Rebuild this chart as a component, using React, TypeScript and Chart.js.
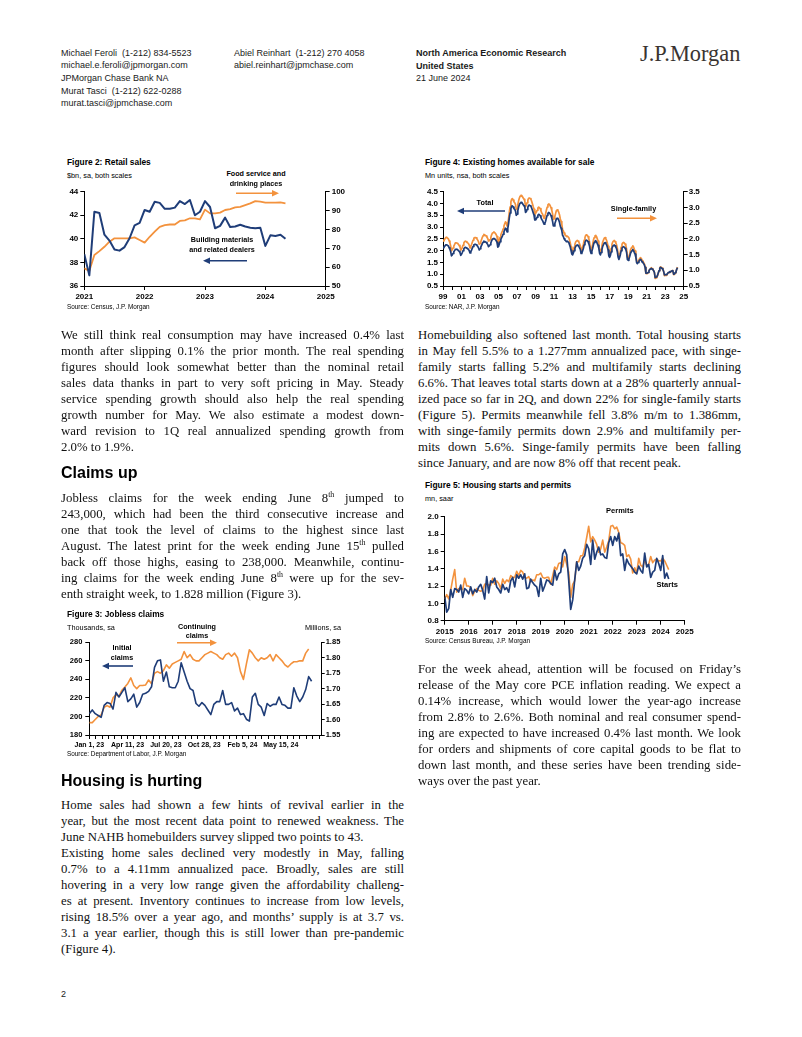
import React, { useEffect, useRef } from 'react';
import { Chart, registerables } from 'chart.js';

Chart.register(...registerables);

const BLUE = '#1f3d78';
const ORANGE = '#f3923d';
const SANS = "'Liberation Sans', Arial, Helvetica, sans-serif";
const SERIF = "'Liberation Serif', 'Times New Roman', Times, serif";

// ---------- Figure 2: Retail sales (monthly, Jan 2021 - May 2024) ----------
const fig2TickLabels = ['2021', '2022', '2023', '2024', '2025'];
const buildingMaterials = [
  38.7, 36.9, 42.3, 42.2, 40.35, 39.85, 39.1, 39.0, 39.3, 40.05, 41.15, 41.35,
  42.45, 42.3, 43.15, 43.05, 42.55, 42.55, 42.65, 43.2, 42.95, 43.3, 42.0, 42.3,
  43.2, 42.7, 40.9, 41.1, 41.8, 41.0, 41.05, 41.2, 41.05, 40.95, 40.9, 40.95,
  39.4, 40.3, 40.25, 40.35, 40.0,
];
const foodServices = [
  59.4, 58, 66.4, 68.5, 70.8, 73.5, 75.3, 75.3, 75.3, 75.3, 75.8, 74.4,
  73, 76.1, 78.8, 81.4, 82.3, 82.6, 82.6, 84.5, 84.8, 85.9, 85.9, 85.3,
  90.5, 88.5, 88.5, 88.9, 90.3, 90.8, 91.7, 92, 92.9, 93.8, 95, 94.7,
  94.2, 94.2, 94.2, 94.3, 93.8,
];

// ---------- Figure 3: Jobless claims (weekly, Jan 2023 - Jun 2024) ----------
const fig3TickLabels = ['Jan 1, 23', 'Apr 11, 23', 'Jul 20, 23', 'Oct 28, 23', 'Feb 5, 24', 'May 15, 24'];
const initialClaims = [
  203, 207, 203, 201, 199, 212, 215, 214, 208, 226,
  221, 226, 231, 216, 219, 224, 210, 215, 224, 225,
  227, 232, 253, 260, 261, 238, 248, 232, 231, 231,
  238, 258, 248, 238, 230, 228, 214, 211, 215, 212,
  207, 202, 213, 216, 216, 228, 213, 213, 215, 206,
  209, 202, 203, 197, 195, 221, 225, 213, 210, 201,
  214, 211, 213, 213, 221, 213, 212, 209, 209, 231,
  222, 216, 221, 229, 243, 238,
];
const continuingClaims = [
  1.59, 1.59, 1.60, 1.61, 1.615, 1.64, 1.645, 1.64, 1.67, 1.68,
  1.675, 1.695, 1.705, 1.717, 1.735, 1.71, 1.70, 1.71, 1.71, 1.712,
  1.728, 1.716, 1.75, 1.755, 1.75, 1.758, 1.777, 1.766, 1.78, 1.785,
  1.79, 1.795, 1.82, 1.80, 1.81, 1.795, 1.79, 1.79, 1.80, 1.81,
  1.815, 1.82, 1.815, 1.81, 1.80, 1.795, 1.81, 1.815, 1.805, 1.815,
  1.80, 1.755, 1.73, 1.78, 1.826, 1.815, 1.80, 1.79, 1.80, 1.795,
  1.80, 1.81, 1.79, 1.81, 1.80, 1.79, 1.777, 1.77, 1.78, 1.787,
  1.787, 1.79, 1.79, 1.815, 1.828,
];

// ---------- Figure 4: Existing homes for sale (monthly, Jan 1999 - May 2024) ----------
const fig4TickLabels = ['99', '01', '03', '05', '07', '09', '11', '13', '15', '17', '19', '21', '23', '25'];
const totalInventory = [
  2.15, 2.12, 2.18, 2.22, 2.25, 2.24, 2.22, 2.20, 2.12, 2.05, 1.95, 1.78,
  1.82, 1.88, 1.95, 2.00, 2.05, 2.05, 2.06, 2.04, 2.00, 1.97, 1.92, 1.80,
  1.85, 1.92, 2.00, 2.08, 2.12, 2.14, 2.12, 2.10, 2.08, 2.05, 2.00, 1.90,
  1.95, 2.02, 2.10, 2.18, 2.24, 2.27, 2.27, 2.25, 2.22, 2.18, 2.12, 2.03,
  2.08, 2.15, 2.22, 2.30, 2.36, 2.40, 2.38, 2.37, 2.35, 2.30, 2.26, 2.17,
  2.20, 2.25, 2.32, 2.42, 2.48, 2.50, 2.52, 2.50, 2.47, 2.42, 2.35, 2.15,
  2.18, 2.28, 2.38, 2.48, 2.55, 2.62, 2.70, 2.80, 2.88, 2.95, 2.92, 2.80,
  2.95, 3.15, 3.40, 3.60, 3.78, 3.88, 3.90, 3.85, 3.78, 3.75, 3.68, 3.50,
  3.55, 3.70, 3.85, 3.95, 4.02, 4.05, 4.05, 4.00, 3.95, 3.90, 3.85, 3.62,
  3.65, 3.75, 3.85, 3.92, 3.93, 3.90, 3.88, 3.80, 3.70, 3.60, 3.50, 3.30,
  3.30, 3.35, 3.42, 3.50, 3.54, 3.52, 3.48, 3.40, 3.32, 3.28, 3.20, 3.12,
  3.15, 3.25, 3.38, 3.50, 3.58, 3.62, 3.60, 3.55, 3.48, 3.38, 3.25, 3.05,
  3.05, 3.15, 3.25, 3.35, 3.37, 3.35, 3.30, 3.20, 3.05, 2.95, 2.85, 2.65,
  2.60, 2.50, 2.45, 2.42, 2.38, 2.40, 2.40, 2.35, 2.25, 2.15, 2.00, 1.85,
  1.82, 1.90, 2.00, 2.10, 2.18, 2.22, 2.24, 2.22, 2.18, 2.12, 2.05, 1.88,
  1.90, 2.00, 2.10, 2.25, 2.35, 2.42, 2.45, 2.42, 2.38, 2.30, 2.18, 1.98,
  1.88, 1.98, 2.10, 2.25, 2.35, 2.40, 2.42, 2.38, 2.30, 2.22, 2.10, 1.88,
  1.82, 1.92, 2.05, 2.18, 2.25, 2.32, 2.34, 2.30, 2.25, 2.15, 2.02, 1.77,
  1.72, 1.80, 1.95, 2.10, 2.18, 2.22, 2.24, 2.20, 2.15, 2.08, 1.95, 1.72,
  1.63, 1.72, 1.85, 2.00, 2.10, 2.15, 2.17, 2.15, 2.10, 2.05, 1.92, 1.63,
  1.59, 1.65, 1.75, 1.88, 1.95, 2.00, 2.05, 2.00, 1.92, 1.85, 1.72, 1.49,
  1.45, 1.50, 1.55, 1.60, 1.63, 1.60, 1.52, 1.50, 1.45, 1.40, 1.28, 1.05,
  1.04, 1.05, 1.08, 1.15, 1.20, 1.22, 1.25, 1.22, 1.20, 1.15, 1.08, 0.86,
  0.86, 0.88, 0.95, 1.05, 1.15, 1.25, 1.29, 1.27, 1.24, 1.20, 1.12, 0.97,
  0.98, 0.98, 0.98, 1.03, 1.07, 1.08, 1.11, 1.10, 1.13, 1.15, 1.13, 1.00,
  1.01, 1.07, 1.11, 1.21, 1.28,
];
const singleFamilyInventory = [
  1.96, 1.93, 1.98, 2.02, 2.05, 2.04, 2.02, 2.00, 1.93, 1.87, 1.77, 1.62,
  1.66, 1.71, 1.77, 1.82, 1.87, 1.87, 1.87, 1.86, 1.82, 1.79, 1.75, 1.64,
  1.67, 1.73, 1.80, 1.87, 1.91, 1.93, 1.91, 1.89, 1.87, 1.85, 1.80, 1.71,
  1.76, 1.82, 1.89, 1.96, 2.02, 2.04, 2.04, 2.03, 2.00, 1.96, 1.91, 1.83,
  1.85, 1.91, 1.98, 2.05, 2.10, 2.14, 2.12, 2.11, 2.09, 2.05, 2.01, 1.93,
  1.94, 1.98, 2.04, 2.13, 2.18, 2.20, 2.22, 2.20, 2.17, 2.13, 2.07, 1.89,
  1.87, 1.96, 2.05, 2.13, 2.19, 2.25, 2.32, 2.41, 2.48, 2.54, 2.51, 2.41,
  2.48, 2.65, 2.86, 3.02, 3.18, 3.26, 3.28, 3.23, 3.18, 3.15, 3.09, 2.94,
  2.96, 3.09, 3.21, 3.30, 3.36, 3.38, 3.38, 3.34, 3.30, 3.26, 3.21, 3.02,
  3.07, 3.15, 3.23, 3.29, 3.30, 3.28, 3.26, 3.19, 3.11, 3.02, 2.94, 2.77,
  2.81, 2.85, 2.91, 2.98, 3.01, 2.99, 2.96, 2.89, 2.82, 2.79, 2.72, 2.65,
  2.71, 2.80, 2.91, 3.01, 3.08, 3.11, 3.10, 3.05, 2.99, 2.91, 2.80, 2.62,
  2.64, 2.72, 2.81, 2.90, 2.92, 2.90, 2.85, 2.77, 2.64, 2.55, 2.47, 2.29,
  2.26, 2.18, 2.13, 2.11, 2.07, 2.09, 2.09, 2.04, 1.96, 1.87, 1.74, 1.61,
  1.58, 1.65, 1.74, 1.83, 1.90, 1.93, 1.95, 1.93, 1.90, 1.84, 1.78, 1.64,
  1.65, 1.74, 1.83, 1.96, 2.04, 2.11, 2.13, 2.11, 2.07, 2.00, 1.90, 1.72,
  1.64, 1.72, 1.83, 1.96, 2.04, 2.09, 2.11, 2.07, 2.00, 1.93, 1.83, 1.64,
  1.58, 1.67, 1.78, 1.90, 1.96, 2.02, 2.04, 2.00, 1.96, 1.87, 1.76, 1.54,
  1.50, 1.57, 1.70, 1.83, 1.90, 1.93, 1.95, 1.91, 1.87, 1.81, 1.70, 1.50,
  1.42, 1.50, 1.61, 1.74, 1.83, 1.87, 1.89, 1.87, 1.83, 1.78, 1.67, 1.42,
  1.38, 1.44, 1.52, 1.64, 1.70, 1.74, 1.78, 1.74, 1.67, 1.61, 1.50, 1.30,
  1.25, 1.29, 1.33, 1.38, 1.40, 1.38, 1.31, 1.29, 1.25, 1.20, 1.10, 0.90,
  0.89, 0.90, 0.93, 0.99, 1.03, 1.05, 1.08, 1.05, 1.03, 0.99, 0.93, 0.74,
  0.74, 0.76, 0.82, 0.90, 0.99, 1.08, 1.11, 1.09, 1.07, 1.03, 0.96, 0.83,
  0.84, 0.84, 0.84, 0.89, 0.92, 0.93, 0.95, 0.95, 0.97, 0.99, 0.97, 0.86,
  0.87, 0.92, 0.95, 1.04, 1.10,
];

// ---------- Figure 5: Housing starts and permits (monthly, Jan 2015 - May 2024) ----------
const fig5TickLabels = ['2015', '2016', '2017', '2018', '2019', '2020', '2021', '2022', '2023', '2024', '2025'];
const housingStarts = [
  1.08, 0.90, 0.94, 1.16, 1.07, 1.17, 1.16, 1.13, 1.21, 1.07, 1.17, 1.15,
  1.11, 1.19, 1.11, 1.16, 1.13, 1.19, 1.22, 1.15, 1.05, 1.31, 1.12, 1.26,
  1.24, 1.29, 1.19, 1.16, 1.12, 1.22, 1.16, 1.18, 1.13, 1.26, 1.30, 1.19,
  1.33, 1.29, 1.33, 1.28, 1.34, 1.17, 1.18, 1.28, 1.24, 1.21, 1.19, 1.08,
  1.29, 1.14, 1.20, 1.27, 1.26, 1.23, 1.21, 1.38, 1.27, 1.34, 1.36, 1.57,
  1.62, 1.56, 1.27, 0.93, 1.04, 1.27, 1.48, 1.38, 1.43, 1.52, 1.55, 1.68,
  1.63, 1.45, 1.73, 1.51, 1.59, 1.65, 1.56, 1.57, 1.53, 1.52, 1.70, 1.77,
  1.67, 1.77, 1.72, 1.81, 1.55, 1.57, 1.38, 1.51, 1.46, 1.43, 1.40, 1.36,
  1.34, 1.43, 1.38, 1.35, 1.58, 1.42, 1.45, 1.30, 1.36, 1.38, 1.52, 1.46,
  1.38, 1.55, 1.29, 1.35, 1.28,
];
const buildingPermits = [
  1.05, 1.10, 1.05, 1.15, 1.28, 1.39, 1.13, 1.17, 1.16, 1.16, 1.29, 1.20,
  1.20, 1.18, 1.09, 1.14, 1.17, 1.15, 1.14, 1.15, 1.22, 1.23, 1.21, 1.21,
  1.29, 1.22, 1.26, 1.23, 1.17, 1.28, 1.23, 1.27, 1.25, 1.32, 1.30, 1.30,
  1.37, 1.32, 1.38, 1.36, 1.30, 1.29, 1.31, 1.25, 1.27, 1.26, 1.33, 1.33,
  1.35, 1.30, 1.29, 1.30, 1.30, 1.22, 1.32, 1.42, 1.39, 1.46, 1.47, 1.42,
  1.54, 1.45, 1.36, 1.07, 1.22, 1.26, 1.48, 1.48, 1.55, 1.55, 1.64, 1.76,
  1.89, 1.71, 1.77, 1.73, 1.68, 1.59, 1.63, 1.73, 1.59, 1.65, 1.72, 1.89,
  1.90, 1.86, 1.88, 1.82, 1.70, 1.69, 1.67, 1.54, 1.56, 1.51, 1.35, 1.41,
  1.35, 1.52, 1.44, 1.42, 1.50, 1.44, 1.45, 1.54, 1.47, 1.50, 1.51, 1.49,
  1.49, 1.52, 1.49, 1.44, 1.39,
];

// ---------- chart helpers ----------
function series(values: number[], color: string, width: number, axis: string) {
  return {
    data: values.map((v, i) => ({ x: i, y: v })),
    borderColor: color,
    backgroundColor: color,
    borderWidth: width,
    pointRadius: 0,
    fill: false,
    tension: 0,
    borderJoinStyle: 'round',
    yAxisID: axis,
  };
}

function yAxis(position: 'left' | 'right', min: number, max: number, count: number, decimals: number, width: number, tickLength: number, padding: number, fontSize = 8) {
  return {
    type: 'linear',
    position,
    min,
    max,
    ticks: {
      count,
      autoSkip: false,
      padding,
      color: '#000',
      font: { family: SANS, size: fontSize, weight: 'bold' },
      callback: (v: any) => Number(v).toFixed(decimals),
    },
    grid: { display: true, drawOnChartArea: false, drawTicks: true, tickLength, color: '#000', lineWidth: 1 },
    border: { display: true, color: '#000', width: 1 },
    afterFit: (s: any) => { s.width = width; },
  };
}

function xAxis(min: number, max: number, count: number, labelFor: (i: number) => string, height: number, fontSize = 8, extra: any = {}) {
  return {
    type: 'linear',
    position: 'bottom',
    min,
    max,
    ticks: {
      count,
      autoSkip: false,
      maxRotation: 0,
      minRotation: 0,
      padding: 2,
      color: '#000',
      font: { family: SANS, size: fontSize, weight: 'bold' },
      callback: (_v: any, i: number) => labelFor(i),
    },
    grid: { display: true, drawOnChartArea: false, drawTicks: true, tickLength: 4, color: '#000', lineWidth: 1 },
    border: { display: true, color: '#000', width: 1 },
    afterFit: (s: any) => { s.height = height; },
    ...extra,
  };
}

function lineConfig(datasets: any[], scales: any, padding: any) {
  return {
    type: 'line',
    data: { datasets },
    options: {
      responsive: false,
      animation: false,
      devicePixelRatio: 1,
      events: [],
      layout: { padding },
      plugins: { legend: { display: false }, tooltip: { enabled: false } },
      scales,
    },
  };
}

function ChartBox({ left, top, width, height, config }: any) {
  const ref = useRef<HTMLCanvasElement>(null);
  useEffect(() => {
    const chart = new Chart(ref.current as HTMLCanvasElement, config());
    return () => chart.destroy();
  }, []);
  return (
    <canvas
      ref={ref}
      width={width}
      height={height}
      style={{ position: 'absolute', left, top, width, height, display: 'block' }}
    />
  );
}

// ---------- chart configs ----------
const fig2Config = () =>
  lineConfig(
    [series(buildingMaterials, BLUE, 2, 'y'), series(foodServices, ORANGE, 1.8, 'y2')],
    {
      x: xAxis(0, 48, 5, (i) => fig2TickLabels[i] ?? '', 18),
      y: yAxis('left', 36, 44, 5, 0, 29.3, 4, 2),
      y2: yAxis('right', 50, 100, 6, 0, 29.3, 4, 2),
    },
    { top: 7.7, left: 0, right: 0, bottom: 0 }
  );

const fig3MinorStep = 12.92 / 6;
const fig3Config = () =>
  lineConfig(
    [series(initialClaims, BLUE, 1.6, 'y'), series(continuingClaims, ORANGE, 1.6, 'y2')],
    {
      x: xAxis(0, 78.4, 37, (i) => (i % 6 === 0 ? fig3TickLabels[i / 6] ?? '' : ''), 17, 7, {
        afterBuildTicks: (s: any) => {
          s.ticks = Array.from({ length: 37 }, (_, k) => ({ value: k * fig3MinorStep }));
        },
      }),
      y: yAxis('left', 180, 280, 6, 0, 29.3, 4, 3, 7.5),
      y2: yAxis('right', 1.55, 1.85, 7, 2, 30.3, 3, 1, 7.5),
    },
    { top: 8.3, left: 0, right: 0, bottom: 0 }
  );

const fig4Config = () =>
  lineConfig(
    [series(totalInventory, BLUE, 1.7, 'y'), series(singleFamilyInventory, ORANGE, 1.7, 'y2')],
    {
      x: xAxis(0, 312, 27, (i) => (i % 2 === 0 ? fig4TickLabels[i / 2] ?? '' : ''), 18),
      y: yAxis('left', 0.5, 4.5, 9, 1, 28, 3, 2),
      y2: yAxis('right', 0.5, 3.5, 7, 1, 21.3, 4, 1),
    },
    { top: 7.7, left: 0, right: 0, bottom: 0 }
  );

const fig5Config = () =>
  lineConfig(
    [series(housingStarts, BLUE, 1.7, 'y'), series(buildingPermits, ORANGE, 1.6, 'y')],
    {
      x: xAxis(0, 120, 11, (i) => fig5TickLabels[i] ?? '', 17.3),
      y: yAxis('left', 0.8, 2.0, 7, 1, 29.7, 4, 2),
    },
    { top: 8.7, left: 0, right: 15.3, bottom: 0 }
  );

// ---------- text helpers ----------
function Txt({ x, y, children, size = 9, bold = false, align = 'left', family = SANS, color = '#000' }: any) {
  const tx = align === 'center' ? '-50%' : align === 'right' ? '-100%' : '0';
  return (
    <div
      style={{
        position: 'absolute',
        left: x,
        top: y - size * 0.6,
        fontFamily: family,
        fontSize: size,
        fontWeight: bold ? 'bold' : 'normal',
        lineHeight: `${size * 1.2}px`,
        whiteSpace: 'pre',
        color,
        transform: `translateX(${tx})`,
      }}
    >
      {children}
    </div>
  );
}

const Sup = () => <sup style={{ fontSize: '0.62em', lineHeight: 0, verticalAlign: 'super' }}>th</sup>;

function Para({ x, y, width, lines, plain = [] }: any) {
  return (
    <div
      style={{
        position: 'absolute',
        left: x,
        top: y - 8.5,
        width,
        fontFamily: SERIF,
        fontSize: 12.8,
        lineHeight: '16px',
        color: '#111',
      }}
    >
      {lines.map((l: any, i: number) => {
        const left = i === lines.length - 1 || plain.includes(i);
        return (
          <div key={i} style={{ height: 16, textAlign: left ? 'left' : 'justify', textAlignLast: left ? 'left' : 'justify' } as any}>
            {l}
          </div>
        );
      })}
    </div>
  );
}

function Arrow({ x1, y1, x2, y2, color }: any) {
  const dir = Math.sign(x2 - x1);
  const hl = 7;
  const hw = 3.2;
  return (
    <g>
      <line x1={x1} y1={y1} x2={x2 - dir * hl * 0.8} y2={y2} stroke={color} strokeWidth={1.6} />
      <polygon points={`${x2},${y2} ${x2 - dir * hl},${y2 - hw} ${x2 - dir * hl},${y2 + hw}`} fill={color} />
    </g>
  );
}

const H = '#1a1a1a';

export default function App() {
  return (
    <div style={{ position: 'absolute', left: 0, top: 0, width: 802, height: 1037, background: '#fff', overflow: 'hidden' }}>
      {/* Header */}
      <Txt x={61} y={53} color={H}>Michael Feroli  (1-212) 834-5523</Txt>
      <Txt x={61} y={65} color={H}>michael.e.feroli@jpmorgan.com</Txt>
      <Txt x={61} y={78} color={H}>JPMorgan Chase Bank NA</Txt>
      <Txt x={61} y={91} color={H}>Murat Tasci  (1-212) 622-0288</Txt>
      <Txt x={61} y={103} color={H}>murat.tasci@jpmchase.com</Txt>
      <Txt x={234} y={53} color={H}>Abiel Reinhart  (1-212) 270 4058</Txt>
      <Txt x={234} y={65} color={H}>abiel.reinhart@jpmchase.com</Txt>
      <Txt x={416} y={53} bold color={H}>North America Economic Research</Txt>
      <Txt x={416} y={66} bold color={H}>United States</Txt>
      <Txt x={416} y={78} color={H}>21 June 2024</Txt>
      <div style={{ position: 'absolute', left: 640, top: 41, fontFamily: SERIF, fontSize: 22.4, lineHeight: '26px', color: '#3a3431', whiteSpace: 'pre' }}>J.P.Morgan</div>

      {/* Figure 2 */}
      <Txt x={67} y={162} size={8.4} bold>Figure 2: Retail sales</Txt>
      <Txt x={67} y={176} size={7.3}>$bn, sa, both scales</Txt>
      <ChartBox left={55} top={184} width={300} height={120} config={fig2Config} />
      <Txt x={67} y={307} size={6.4}>Source: Census, J.P. Morgan</Txt>
      <Txt x={256} y={174} size={7.2} bold align="center">Food service and</Txt>
      <Txt x={256} y={184.5} size={7.2} bold align="center">drinking places</Txt>
      <Txt x={222} y={240} size={7.2} bold align="center">Building materials</Txt>
      <Txt x={222} y={250} size={7.2} bold align="center">and related dealers</Txt>

      {/* Figure 4 */}
      <Txt x={425} y={162} size={8.4} bold>Figure 4: Existing homes available for sale</Txt>
      <Txt x={425} y={176} size={7.3}>Mn units, nsa, both scales</Txt>
      <ChartBox left={415} top={184} width={290} height={120} config={fig4Config} />
      <Txt x={425} y={307} size={6.4}>Source: NAR, J.P. Morgan</Txt>
      <Txt x={485} y={203.3} size={7.3} bold align="center">Total</Txt>
      <Txt x={633.5} y={209.3} size={7.3} bold align="center">Single-family</Txt>

      {/* Left column text */}
      <Para
        x={61}
        y={335}
        width={343}
        lines={[
          'We still think real consumption may have increased 0.4% last',
          'month after slipping 0.1% the prior month. The real spending',
          'figures should look somewhat better than the nominal retail',
          'sales data thanks in part to very soft pricing in May. Steady',
          'service spending growth should also help the real spending',
          'growth number for May. We also estimate a modest down-',
          'ward revision to 1Q real annualized spending growth from',
          '2.0% to 1.9%.',
        ]}
      />
      <Txt x={61} y={473} size={16} bold>Claims up</Txt>
      <Para
        x={61}
        y={498}
        width={343}
        lines={[
          <>Jobless claims for the week ending June 8<Sup /> jumped to</>,
          '243,000, which had been the third consecutive increase and',
          'one that took the level of claims to the highest since last',
          <>August. The latest print for the week ending June 15<Sup /> pulled</>,
          'back off those highs, easing to 238,000. Meanwhile, continu-',
          <>ing claims for the week ending June 8<Sup /> were up for the sev-</>,
          'enth straight week, to 1.828 million (Figure 3).',
        ]}
      />

      {/* Figure 3 */}
      <Txt x={67} y={614.5} size={8.4} bold>Figure 3: Jobless claims</Txt>
      <Txt x={67} y={628} size={7.3}>Thousands, sa</Txt>
      <Txt x={341} y={628} size={7.3} align="right">Millions, sa</Txt>
      <ChartBox left={60} top={634} width={292} height={118} config={fig3Config} />
      <Txt x={67} y={754.3} size={6.4}>Source: Department of Labor, J.P. Morgan</Txt>
      <Txt x={197} y={627.7} size={7.2} bold align="center">Continuing</Txt>
      <Txt x={197} y={636.7} size={7.2} bold align="center">claims</Txt>
      <Txt x={122} y={648.3} size={7.2} bold align="center">Initial</Txt>
      <Txt x={122} y={658.3} size={7.2} bold align="center">claims</Txt>

      <Txt x={61} y={781} size={16} bold>Housing is hurting</Txt>
      <Para
        x={61}
        y={805}
        width={343}
        plain={[2]}
        lines={[
          'Home sales had shown a few hints of revival earlier in the',
          'year, but the most recent data point to renewed weakness. The',
          'June NAHB homebuilders survey slipped two points to 43.',
          'Existing home sales declined very modestly in May, falling',
          '0.7% to a 4.11mm annualized pace. Broadly, sales are still',
          'hovering in a very low range given the affordability challeng-',
          'es at present. Inventory continues to increase from low levels,',
          'rising 18.5% over a year ago, and months\u2019 supply is at 3.7 vs.',
          '3.1 a year earlier, though this is still lower than pre-pandemic',
          '(Figure 4).',
        ]}
      />

      {/* Right column text */}
      <Para
        x={418}
        y={335}
        width={323}
        lines={[
          'Homebuilding also softened last month. Total housing starts',
          'in May fell 5.5% to a 1.277mm annualized pace, with singe-',
          'family starts falling 5.2% and multifamily starts declining',
          '6.6%. That leaves total starts down at a 28% quarterly annual-',
          'ized pace so far in 2Q, and down 22% for single-family starts',
          '(Figure 5). Permits meanwhile fell 3.8% m/m to 1.386mm,',
          'with singe-family permits down 2.9% and multifamily per-',
          'mits down 5.6%. Singe-family permits have been falling',
          'since January, and are now 8% off that recent peak.',
        ]}
      />

      {/* Figure 5 */}
      <Txt x={425} y={485} size={8.4} bold>Figure 5: Housing starts and permits</Txt>
      <Txt x={425} y={499} size={7.3}>mn, saar</Txt>
      <ChartBox left={415} top={508} width={285} height={130} config={fig5Config} />
      <Txt x={425} y={641} size={6.4}>Source: Census Bureau, J.P. Morgan</Txt>
      <Txt x={619.8} y={510.7} size={7.5} bold align="center">Permits</Txt>
      <Txt x={667.2} y={584.3} size={7.5} bold align="center">Starts</Txt>

      <Para
        x={418}
        y={669}
        width={323}
        lines={[
          'For the week ahead, attention will be focused on Friday\u2019s',
          'release of the May core PCE inflation reading. We expect a',
          '0.14% increase, which would lower the year-ago increase',
          'from 2.8% to 2.6%. Both nominal and real consumer spend-',
          'ing are expected to have increased 0.4% last month. We look',
          'for orders and shipments of core capital goods to be flat to',
          'down last month, and these series have been trending side-',
          'ways over the past year.',
        ]}
      />

      <Txt x={61} y={994} size={9} color={H}>2</Txt>

      {/* Annotation arrows */}
      <svg width={802} height={1037} style={{ position: 'absolute', left: 0, top: 0, pointerEvents: 'none' }}>
        <Arrow x1={236} y1={193.3} x2={279} y2={193.3} color={ORANGE} />
        <Arrow x1={247} y1={260.7} x2={203} y2={260.7} color={BLUE} />
        <Arrow x1={177} y1={642.7} x2={217} y2={642.7} color={ORANGE} />
        <Arrow x1={133} y1={666} x2={102} y2={666} color={BLUE} />
        <Arrow x1={505} y1={211} x2={457} y2={211} color={BLUE} />
        <Arrow x1={617} y1={218.3} x2={657} y2={218.3} color={ORANGE} />
      </svg>
    </div>
  );
}
